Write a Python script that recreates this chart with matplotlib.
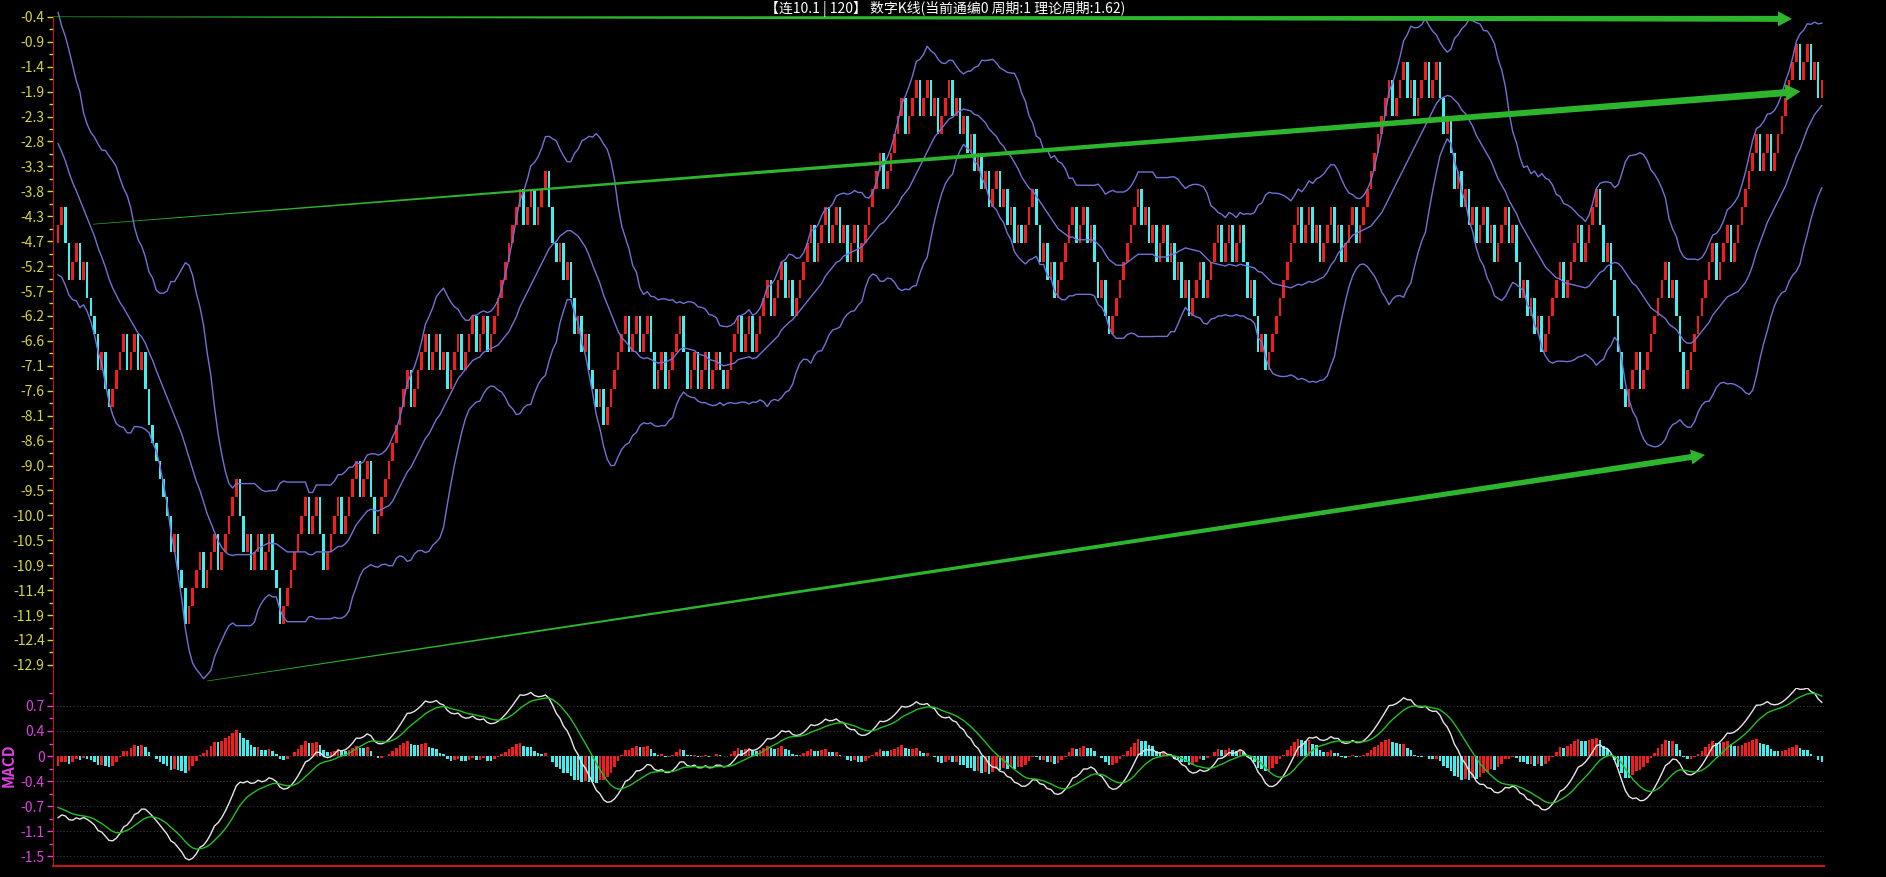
import numpy as np
import pandas as pd
import matplotlib
matplotlib.use("Agg")
import matplotlib.pyplot as plt
from matplotlib.patches import Polygon
from matplotlib.transforms import IdentityTransform

plt.rcParams['font.family'] = ['Noto Sans CJK SC', 'DejaVu Sans']

# bars before the visible window (only feed BOLL / MACD)
warmup_close = [
    -0.57, -0.92, -0.57, -0.22, -0.57, -0.92, -0.57, -0.22, -0.57, -0.92,
    -0.57, -0.22, -0.57, -0.92, -1.27, -0.92, -0.57, -0.92, -0.57, -0.92,
    -1.27, -0.92, -0.57, -0.92, -0.57, -0.92, -1.27, -0.92, -0.57, -0.92,
    -0.92, -0.92, -1.27, -0.92, -1.27, -1.62, -1.97, -1.62, -2.32, -2.67,
    -3.02, -2.67, -3.37, -3.72, -3.37, -4.07, -4.42, -4.07, -4.42, -4.77,
]

# visible bars, close of each bar (open = previous close)
close = [
    -4.42, -4.07, -4.77, -5.47, -5.12, -4.77, -5.47, -5.12, -5.82, -6.17,
    -6.52, -7.22, -6.87, -7.57, -7.92, -7.57, -7.22, -6.87, -6.52, -7.22,
    -6.87, -6.52, -7.22, -6.87, -7.57, -8.27, -8.62, -8.97, -9.32, -9.67,
    -10.02, -10.72, -10.37, -11.07, -11.42, -12.12, -11.77, -11.42, -11.07, -10.72,
    -11.42, -11.07, -10.72, -10.37, -11.07, -10.72, -10.37, -10.02, -9.67, -9.32,
    -10.02, -10.72, -10.37, -11.07, -10.72, -10.37, -11.07, -10.72, -10.37, -11.07,
    -11.42, -12.12, -11.77, -11.42, -11.07, -10.72, -10.37, -10.02, -9.67, -10.37,
    -10.02, -9.67, -10.37, -11.07, -10.72, -10.37, -10.02, -9.67, -10.37, -10.02,
    -9.67, -9.32, -8.97, -9.67, -9.32, -8.97, -9.67, -10.37, -10.02, -9.67,
    -9.32, -8.97, -8.62, -8.27, -7.92, -7.57, -7.22, -7.92, -7.57, -7.22,
    -6.87, -6.52, -7.22, -6.87, -6.52, -7.22, -6.87, -7.57, -7.22, -6.87,
    -6.52, -7.22, -6.87, -6.52, -6.17, -6.87, -6.52, -6.17, -6.87, -6.52,
    -6.17, -5.82, -5.47, -5.12, -4.77, -4.42, -4.07, -3.72, -4.42, -4.07,
    -3.72, -4.42, -4.07, -3.72, -3.37, -4.07, -4.77, -5.12, -4.77, -5.47,
    -5.12, -5.82, -6.52, -6.17, -6.87, -6.52, -7.22, -7.57, -7.92, -7.57,
    -8.27, -7.92, -7.57, -7.22, -6.87, -6.52, -6.17, -6.87, -6.52, -6.17,
    -6.87, -6.52, -6.17, -6.87, -7.57, -7.22, -6.87, -7.57, -7.22, -6.87,
    -6.52, -6.17, -6.87, -7.57, -7.22, -6.87, -7.57, -7.22, -6.87, -7.57,
    -7.22, -6.87, -7.22, -7.57, -7.22, -6.87, -6.52, -6.17, -6.87, -6.52,
    -6.17, -6.87, -6.52, -6.17, -5.82, -5.47, -6.17, -5.82, -5.47, -5.12,
    -5.82, -5.47, -6.17, -5.82, -5.47, -5.12, -4.77, -4.42, -5.12, -4.77,
    -4.42, -4.07, -4.77, -4.42, -4.07, -4.77, -4.42, -5.12, -4.77, -4.42,
    -5.12, -4.77, -4.42, -4.07, -3.72, -3.37, -3.02, -3.72, -3.37, -3.02,
    -2.67, -2.32, -1.97, -2.67, -2.32, -1.97, -1.62, -2.32, -1.97, -1.62,
    -2.32, -1.97, -2.67, -2.32, -1.97, -1.62, -2.32, -1.97, -2.67, -2.32,
    -3.02, -2.67, -3.37, -3.02, -3.72, -3.37, -4.07, -3.72, -3.37, -4.07,
    -3.72, -4.42, -4.07, -4.77, -4.42, -4.77, -4.42, -4.07, -3.72, -4.42,
    -5.12, -4.77, -5.47, -5.12, -5.82, -5.47, -5.12, -4.77, -4.42, -4.07,
    -4.77, -4.42, -4.07, -4.77, -4.42, -5.12, -5.82, -5.47, -6.17, -6.52,
    -6.17, -5.82, -5.47, -5.12, -4.77, -4.42, -4.07, -3.72, -4.42, -4.07,
    -4.77, -4.42, -5.12, -4.77, -4.42, -5.12, -4.77, -5.47, -5.12, -5.82,
    -5.47, -6.17, -5.82, -5.47, -5.12, -5.82, -5.47, -5.12, -4.77, -4.42,
    -5.12, -4.77, -4.42, -5.12, -4.77, -4.42, -5.12, -5.82, -5.47, -6.17,
    -6.87, -6.52, -7.22, -6.87, -6.52, -6.17, -5.82, -5.47, -5.12, -4.77,
    -4.42, -4.07, -4.77, -4.42, -4.07, -4.77, -4.42, -5.12, -4.77, -4.42,
    -4.07, -4.77, -4.42, -5.12, -4.77, -4.42, -4.07, -4.77, -4.42, -4.07,
    -3.72, -3.37, -3.02, -2.67, -2.32, -1.97, -1.62, -2.32, -1.97, -1.62,
    -1.27, -1.97, -1.62, -2.32, -1.97, -1.62, -1.27, -1.97, -1.62, -1.27,
    -1.97, -2.67, -2.32, -3.02, -3.72, -3.37, -4.07, -3.72, -4.42, -4.07,
    -4.77, -4.42, -4.07, -4.77, -4.42, -5.12, -4.77, -4.42, -4.07, -4.77,
    -4.42, -5.12, -5.82, -5.47, -6.17, -5.82, -6.52, -6.17, -6.87, -6.52,
    -6.17, -5.82, -5.47, -5.12, -5.82, -5.47, -5.12, -4.77, -4.42, -5.12,
    -4.77, -4.42, -4.07, -3.72, -4.42, -5.12, -4.77, -5.47, -6.17, -6.87,
    -7.57, -7.92, -7.57, -7.22, -6.87, -7.57, -7.22, -6.87, -6.52, -6.17,
    -5.82, -5.47, -5.12, -5.82, -5.47, -6.17, -6.87, -7.57, -7.22, -6.87,
    -6.52, -6.17, -5.82, -5.47, -5.12, -4.77, -5.47, -5.12, -4.77, -4.42,
    -5.12, -4.77, -4.42, -4.07, -3.72, -3.37, -3.02, -2.67, -3.37, -3.02,
    -2.67, -3.37, -3.02, -2.67, -2.32, -1.97, -1.62, -1.27, -0.92, -1.62,
    -1.27, -0.92, -1.62, -1.27, -1.97, -1.62,
]

price_ticks = ['-0.4', '-0.9', '-1.4', '-1.9', '-2.3', '-2.8', '-3.3', '-3.8', '-4.3',
               '-4.7', '-5.2', '-5.7', '-6.2', '-6.6', '-7.1', '-7.6', '-8.1', '-8.6',
               '-9.0', '-9.5', '-10.0', '-10.5', '-10.9', '-11.4', '-11.9', '-12.4', '-12.9']
macd_tick_vals = [0.74, 0.37, 0.0, -0.37, -0.74, -1.11, -1.48]
macd_ticks = ['0.7', '0.4', '0', '-0.4', '-0.7', '-1.1', '-1.5']

# trend arrows drawn on the chart: (bar, price) start -> tip
arrows = [
    ((-1.4, -0.40), (476.8, -0.44)),
    ((9.6, -4.40), (479.1, -1.84)),
    ((41.0, -13.21), (452.9, -8.85)),
]

title = '【连10.1 | 120】 数字K线(当前通编0 周期:1 理论周期:1.62)'

RED = '#f41c1c'
CYAN = '#3ef0f0'
BAND = '#7272d6'
GREEN = '#2db52d'
YEL = '#d6d640'
MAG = '#e040e0'
SPINE = '#c81414'

# indicators
s = pd.Series(warmup_close + close)
mid = s.rolling(20).mean()
sd = s.rolling(20).std(ddof=0)
upper = mid + 2 * sd
lower = mid - 2 * sd
dif = s.ewm(span=12, adjust=False).mean() - s.ewm(span=26, adjust=False).mean()
dea = dif.ewm(span=9, adjust=False).mean()
hist = dif - dea
hist_up = hist.diff() >= 0

n0 = len(warmup_close)
x = np.arange(len(close))
c = np.array(close)
o = s.shift(1).values[n0:]

W, H = 1886, 877
fig = plt.figure(figsize=(W / 100, H / 100), dpi=100, facecolor='black')
ax1 = fig.add_axes([53 / W, (H - 688) / H, (1824 - 53) / W, 688 / H], facecolor='black')
ax2 = fig.add_axes([53 / W, (H - 866) / H, (1824 - 53) / W, (866 - 688) / H], facecolor='black')

xl = (-1.4, len(close) - 0.4)

# main panel
ax1.bar(x, np.abs(c - o), bottom=np.minimum(c, o), width=0.72,
        color=np.where(c > o, RED, CYAN), linewidth=0)
for band in (upper, mid, lower):
    ax1.plot(x, band.values[n0:], color=BAND, lw=1.0)
ax1.set_xlim(*xl)
ax1.set_ylim(-13.345, -0.076)
tick_pos = np.linspace(-0.4, -12.9, len(price_ticks))
ax1.set_yticks(tick_pos)
ax1.set_yticklabels(price_ticks)
ax1.set_yticks((tick_pos[:-1] + tick_pos[1:]) / 2, minor=True)
ax1.tick_params(axis='y', colors=YEL, labelsize=10, length=4, width=1, pad=2)
ax1.tick_params(axis='y', which='minor', colors=YEL, length=3, width=1)
ax1.set_xticks([])
for sp in ('top', 'right', 'bottom'):
    ax1.spines[sp].set_visible(False)
ax1.spines['left'].set_color(SPINE)
ax1.spines['left'].set_bounds(-13.345, -0.4)

# MACD panel
ax2.bar(x, hist.values[n0:], width=0.72,
        color=np.where(hist_up.values[n0:], RED, CYAN), linewidth=0)
ax2.plot(x, dif.values[n0:], color='#e6e6e6', lw=1.0)
ax2.plot(x, dea.values[n0:], color='#22c022', lw=1.0)
ax2.set_xlim(*xl)
ax2.set_ylim(-1.627, 1.006)
ax2.set_yticks(macd_tick_vals)
ax2.set_yticklabels(macd_ticks)
mv = np.array(macd_tick_vals)
ax2.set_yticks(np.r_[(mv[:-1] + mv[1:]) / 2, mv[0] + 0.185], minor=True)
ax2.tick_params(axis='y', colors=MAG, labelsize=10, length=4, width=1, pad=2)
ax2.tick_params(axis='y', which='minor', colors=MAG, length=3, width=1)
ax2.set_xticks([])
for v in macd_tick_vals:
    ax2.axhline(v, color='#3a3a3a', lw=0.8, ls=(0, (1, 2)), zorder=0)
for sp in ('top', 'right'):
    ax2.spines[sp].set_visible(False)
ax2.spines['left'].set_color(SPINE)
ax2.spines['bottom'].set_color(SPINE)
ax2.spines['bottom'].set_linewidth(1.5)

fig.text(9 / W, 1 - 765 / H, 'MACD', rotation=90, color=MAG, fontsize=11,
         fontweight='bold', ha='center', va='center')
fig.text(945 / W, 1 - 1 / H, title, color='white', fontsize=10, ha='center', va='top')


# tapered arrows, built in pixel space so the head keeps its shape
def taper_arrow(ax, p0, p1, w0, w1, head_w, head_l, color):
    a, b = ax.transData.transform([p0, p1])
    d = b - a
    u = d / np.hypot(*d)
    nrm = np.array([-u[1], u[0]])
    base = b - u * head_l
    pts = [a + nrm * w0 / 2, base + nrm * w1 / 2, base + nrm * head_w / 2, b,
           base - nrm * head_w / 2, base - nrm * w1 / 2, a - nrm * w0 / 2]
    ax.add_patch(Polygon(pts, closed=True, transform=IdentityTransform(),
                         facecolor=color, edgecolor='none', clip_on=False, zorder=5))


taper_arrow(ax1, *arrows[0], 0.6, 6, 15, 14, GREEN)
taper_arrow(ax1, *arrows[1], 0.6, 7, 17, 15, GREEN)
taper_arrow(ax1, *arrows[2], 0.6, 6, 15, 14, GREEN)

fig.savefig('out.png', dpi=100, facecolor='black')
